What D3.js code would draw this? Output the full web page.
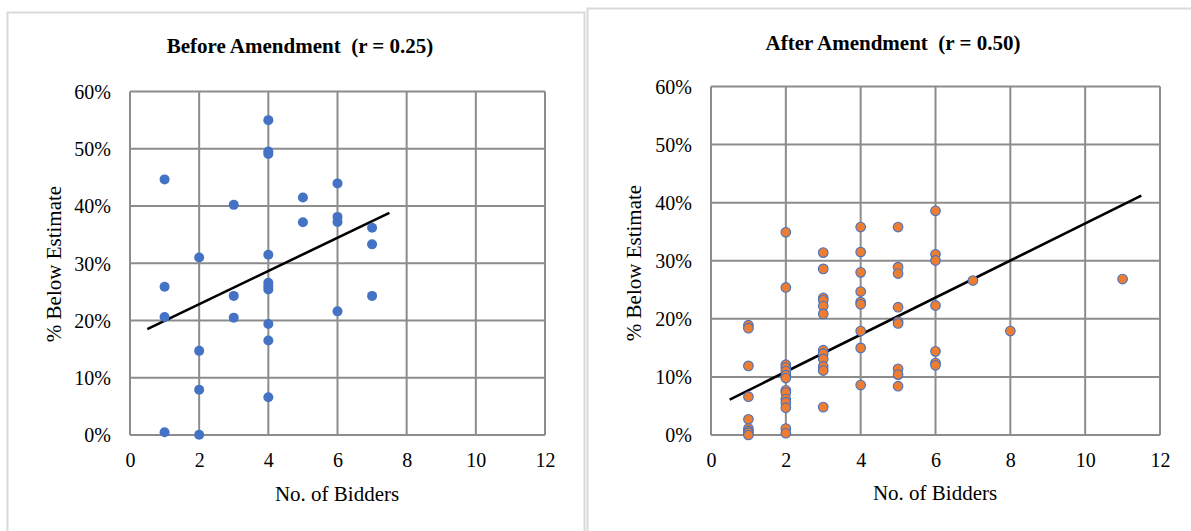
<!DOCTYPE html>
<html>
<head>
<meta charset="utf-8">
<script src="https://cdn.jsdelivr.net/npm/d3@7"></script>
<style>
  html, body { margin: 0; padding: 0; background: #fff; }
  svg { display: block; }
  svg text { font-family: "Liberation Serif", "Times New Roman", Times, "DejaVu Serif", serif !important; fill: #000; white-space: pre; }
</style>
</head>
<body>
<svg id="chart" width="1191" height="531"></svg>
<script>
// ---------- data ----------
const xTicks = [0, 2, 4, 6, 8, 10, 12];
const yTicks = [0, 0.1, 0.2, 0.3, 0.4, 0.5, 0.6];

const beforeTitle = "Before Amendment  (r = 0.25)";
const beforeX = [1,1,1,1, 2,2,2,2, 3,3,3, 4,4,4,4,4,4,4,4,4,4, 5,5, 6,6,6,6, 7,7,7];
const beforeY = [0.4465,0.259,0.206,0.0047, 0.310,0.147,0.079,0.0005, 0.402,0.243,0.205,
                 0.550,0.495,0.491,0.315,0.266,0.260,0.254,0.194,0.165,0.066,
                 0.415,0.3715, 0.4395,0.381,0.372,0.216, 0.362,0.333,0.243];
const beforeTrendX = [0.5, 7.5];
const beforeTrendY = [0.185, 0.388];

const afterTitle = "After Amendment  (r = 0.50)";
const afterX = [1,1,1,1,1,1,1,1,1,
                2,2,2,2,2,2,2,2,2,2,2,2,2,2,
                3,3,3,3,3,3,3,3,3,3,3,3,
                4,4,4,4,4,4,4,4,4,
                5,5,5,5,5,5,5,5,5,
                6,6,6,6,6,6,6,
                7, 8, 11];
const afterY = [0.189,0.184,0.119,0.066,0.027,0.011,0.007,0.004,0.000,
                0.349,0.254,0.121,0.116,0.110,0.103,0.098,0.077,0.073,0.062,0.056,0.047,0.011,0.003,
                0.314,0.286,0.236,0.232,0.222,0.2085,0.146,0.140,0.131,0.118,0.111,0.048,
                0.358,0.315,0.280,0.247,0.229,0.225,0.179,0.150,0.086,
                0.358,0.289,0.278,0.220,0.195,0.192,0.114,0.104,0.084,
                0.386,0.311,0.3005,0.223,0.144,0.124,0.120,
                0.266, 0.179, 0.2685];
const afterTrendX = [0.5, 11.5];
const afterTrendY = [0.061, 0.412];

const xLabel = "No. of Bidders";
const yLabel = "% Below Estimate";

// ---------- drawing ----------
const FONT = '"Liberation Serif", "Times New Roman", Times, serif';
const svg = d3.select("#chart");

// chart boxes
svg.append("rect").attr("x", 7.5).attr("y", 12.5).attr("width", 577).attr("height", 540)
  .attr("fill", "#fff").attr("stroke", "#d9d9d9").attr("stroke-width", 2);
svg.append("rect").attr("x", 587.5).attr("y", 8.5).attr("width", 640).attr("height", 540)
  .attr("fill", "#fff").attr("stroke", "#d9d9d9").attr("stroke-width", 2);

function panel(cfg) {
  const x = d3.scaleLinear().domain([0, 12]).range([cfg.left, cfg.right]);
  const y = d3.scaleLinear().domain([0, 0.6]).range([cfg.bottom, cfg.top]);
  const g = svg.append("g").attr("font-family", FONT);

  // grid
  g.append("g").selectAll("line").data(yTicks).join("line")
    .attr("x1", cfg.left).attr("x2", cfg.right)
    .attr("y1", d => y(d)).attr("y2", d => y(d))
    .attr("stroke", "#8c8c8c").attr("stroke-width", 2);
  g.append("g").selectAll("line").data(xTicks).join("line")
    .attr("x1", d => x(d)).attr("x2", d => x(d))
    .attr("y1", cfg.top).attr("y2", cfg.bottom)
    .attr("stroke", "#8c8c8c").attr("stroke-width", 2);

  // axes (labels only)
  const xAxis = d3.axisBottom(x).tickValues(xTicks).tickSize(0).tickPadding(0).tickFormat(d3.format("d"));
  const xa = g.append("g").attr("transform", `translate(0,${cfg.bottom})`).call(xAxis)
    .attr("font-family", FONT).attr("font-size", 20);
  xa.select(".domain").remove();
  xa.selectAll("text").attr("y", 32).attr("dy", 0).attr("fill", "#000");

  const yAxis = d3.axisLeft(y).tickValues(yTicks).tickSize(0).tickPadding(19).tickFormat(d3.format(".0%"));
  const ya = g.append("g").attr("transform", `translate(${cfg.left},0)`).call(yAxis)
    .attr("font-family", FONT).attr("font-size", 20);
  ya.select(".domain").remove();
  ya.selectAll("text").attr("dy", "0.34em").attr("fill", "#000");

  // trend line
  const line = d3.line().x(d => x(d[0])).y(d => y(d[1]));
  g.append("path").datum(d3.zip(cfg.trendX, cfg.trendY)).attr("d", line)
    .attr("fill", "none").attr("stroke", "#000").attr("stroke-width", 2.6);

  // points
  g.append("g").selectAll("circle").data(d3.zip(cfg.xs, cfg.ys)).join("circle")
    .attr("cx", d => x(d[0])).attr("cy", d => y(d[1]))
    .attr("r", cfg.r)
    .attr("fill", cfg.fill)
    .attr("stroke", cfg.stroke)
    .attr("stroke-width", cfg.strokeWidth);

  // titles
  g.append("text").attr("x", cfg.titleX).attr("y", cfg.titleY).attr("text-anchor", "middle")
    .attr("xml:space", "preserve")
    .attr("font-size", 21).attr("font-weight", "bold").text(cfg.title);
  g.append("text").attr("x", cfg.xLabelX).attr("y", cfg.xLabelY).attr("text-anchor", "middle")
    .attr("font-size", 21).text(xLabel);
  g.append("text").attr("transform", `translate(${cfg.yLabelX},${cfg.yLabelY}) rotate(-90)`)
    .attr("text-anchor", "middle").attr("font-size", 21).text(yLabel);
}

panel({
  left: 130, right: 545, top: 91.5, bottom: 435,
  xs: beforeX, ys: beforeY, trendX: beforeTrendX, trendY: beforeTrendY,
  r: 5, fill: "#4472c4", stroke: "none", strokeWidth: 0,
  title: beforeTitle, titleX: 300, titleY: 53,
  xLabelX: 337, xLabelY: 501, yLabelX: 61, yLabelY: 264
});

panel({
  left: 711, right: 1160, top: 86.5, bottom: 435,
  xs: afterX, ys: afterY, trendX: afterTrendX, trendY: afterTrendY,
  r: 4.8, fill: "#ed7d31", stroke: "#4472c4", strokeWidth: 1.1,
  title: afterTitle, titleX: 893, titleY: 50,
  xLabelX: 935, xLabelY: 500, yLabelX: 641, yLabelY: 263
});
</script>
</body>
</html>
